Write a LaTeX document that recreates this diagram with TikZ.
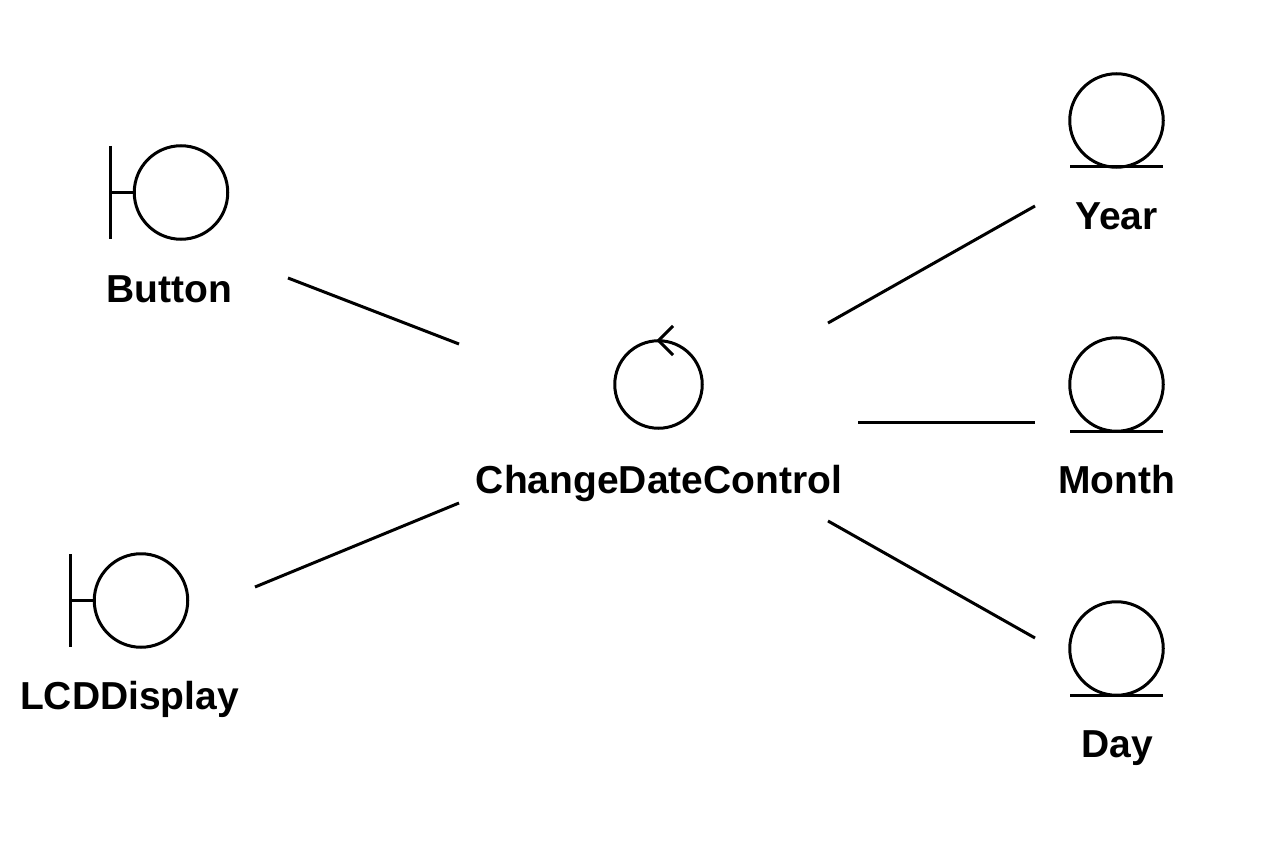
\documentclass[tikz,border=0pt]{standalone}
\usepackage{fontspec}
\setmainfont{Liberation Sans}
\begin{document}
\begin{tikzpicture}[x=1pt,y=-1pt,
 ln/.style={draw=black,line width=3pt,line cap=butt},
 circ/.style={circle,draw=black,line width=3pt,inner sep=0pt,outer sep=0pt,minimum size=93.5pt},
 ctrlc/.style={circle,draw=black,line width=3pt,inner sep=0pt,outer sep=0pt,minimum size=87.5pt},
 lab/.style={font=\bfseries\fontsize{39}{42}\selectfont,inner sep=0pt,anchor=base}]
\useasboundingbox (0,0) rectangle (1266,842);
\fill[white] (0,0) rectangle (1266,842);
% Button
\node[circ] (b) at (181,192.5) {};
\draw[ln] (110.5,146) -- (110.5,239);
\coordinate (bl) at (110.5,192.5);
\draw[ln] (bl) -- (b.west);
\node[lab] (bt) at (169.5,302) {Button};
% LCD
\node[circ] (l) at (141,600.5) {};
\draw[ln] (70.5,554) -- (70.5,647);
\coordinate (ll) at (70.5,600.5);
\draw[ln] (ll) -- (l.west);
\node[lab] (lt) at (129.5,709) {LCDDisplay};
% Control
\node[ctrlc] (c) at (658.5,384.5) {};
\draw[ln] (673,326) -- (658.5,340.5) -- (673,355);
\node[lab] (ct) at (659,493) {ChangeDateControl};
% Entities
\node[circ] (y) at (1116.5,120.5) {};
\draw[ln] (1070,167) -- (1163,167);
\node[lab] (yt) at (1116.5,230) {Year};
\node[circ] (m) at (1116.5,384.5) {};
\draw[ln] (1070,431) -- (1163,431);
\node[lab] (mt) at (1116.5,493) {Month};
\node[circ] (d) at (1116.5,648.5) {};
\draw[ln] (1070,695) -- (1163,695);
\node[lab] (dt) at (1117,757) {Day};
% Connectors
\coordinate (a1) at (288,278); \coordinate (c1) at (459,344);
\coordinate (a2) at (255,587); \coordinate (c2) at (459,503);
\coordinate (c3) at (828,323); \coordinate (y1) at (1035,206);
\coordinate (c4) at (858,422); \coordinate (m1) at (1035,422);
\coordinate (c5) at (828,521); \coordinate (d1) at (1035,638);
\draw[ln] (a1) -- (c1);
\draw[ln] (a2) -- (c2);
\draw[ln] (c3) -- (y1);
\draw[ln] (c4) -- (m1);
\draw[ln] (c5) -- (d1);
\end{tikzpicture}
\end{document}
